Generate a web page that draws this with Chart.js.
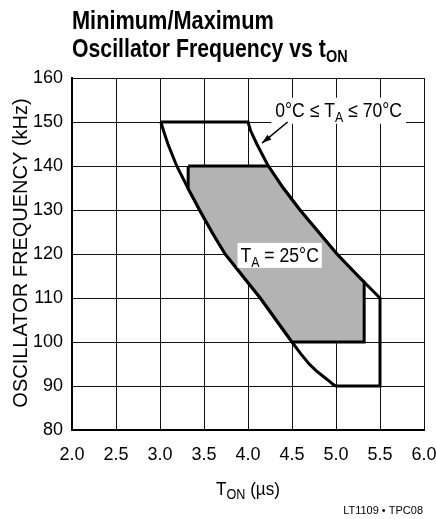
<!DOCTYPE html>
<html>
<head>
<meta charset="utf-8">
<script src="https://cdn.jsdelivr.net/npm/chart.js@4.4.1/dist/chart.umd.min.js"></script>
<style>
  html, body { margin: 0; padding: 0; background: #fff; }
  #wrap { position: relative; width: 436px; height: 519px; }
</style>
</head>
<body>
<div id="wrap"><canvas id="chart" width="436" height="519"></canvas></div>
<script>
// x ticks (t_ON, us) and y ticks (kHz)
const xTicks = [2.0, 2.5, 3.0, 3.5, 4.0, 4.5, 5.0, 5.5, 6.0];
const yTicks = [80, 90, 100, 110, 120, 130, 140, 150, 160];

// 0C <= TA <= 70C envelope, walked clockwise
const outerT = [3.01, 4.0, 4.03, 4.1, 4.23, 4.4, 4.59, 4.8, 5.01, 5.25, 5.5, 5.5, 5.0, 4.97, 4.93, 4.86, 4.78, 4.70, 4.6, 4.5, 4.32, 4.14, 3.94, 3.74, 3.59, 3.45, 3.32, 3.19, 3.09, 3.04, 3.01];
const outerF = [150, 150, 148, 145, 140, 135, 130, 125, 120, 115, 110, 90, 90, 90.3, 91, 92.1, 93.4, 94.9, 97.3, 100, 105, 110, 115, 120, 125, 130, 134.9, 140, 145, 148, 150];

// TA = 25C region
const innerT = [3.32, 4.23, 4.4, 4.59, 4.8, 5.01, 5.25, 5.32, 5.32, 4.5, 4.32, 4.14, 3.94, 3.74, 3.59, 3.45, 3.32, 3.32];
const innerF = [140, 140, 135, 130, 125, 120, 115, 113.6, 100, 100, 105, 110, 115, 120, 125, 130, 134.9, 140];

const FONT = '"Liberation Sans", Arial, sans-serif';

function pts(xs, ys) {
    return xs.map((x, i) => ({ x: x, y: ys[i] }));
}

// draws text made of pieces (some subscripted), squeezed horizontally by sx
function drawRich(ctx, parts, x, y, align, sx) {
    sx = sx || 1;
    let total = 0;
    parts.forEach(p => {
        ctx.font = p.font;
        p.w = ctx.measureText(p.text).width;
        total += p.w;
    });
    let cx = 0;
    if (align === 'center') cx = -total / 2;
    if (align === 'right') cx = -total;
    ctx.save();
    ctx.translate(x, y);
    ctx.scale(sx, 1);
    ctx.textAlign = 'left';
    ctx.textBaseline = 'alphabetic';
    parts.forEach(p => {
        ctx.font = p.font;
        ctx.fillText(p.text, cx, p.dy || 0);
        cx += p.w;
    });
    ctx.restore();
    return total * sx;
}

function richWidth(ctx, parts, sx) {
    let w = 0;
    parts.forEach(p => { ctx.font = p.font; w += ctx.measureText(p.text).width; });
    return w * (sx || 1);
}

const textPlugin = {
    id: 'texts',
    afterDraw(chart) {
        const ctx = chart.ctx;
        const xs = chart.scales.x;
        const ys = chart.scales.y;
        ctx.save();
        ctx.fillStyle = '#000';

        // title
        const tf = 'bold 25px ' + FONT;
        const tfs = 'bold 17px ' + FONT;
        drawRich(ctx, [{ text: 'Minimum/Maximum', font: tf }], 72, 29, 'left', 0.87);
        drawRich(ctx, [
            { text: 'Oscillator Frequency vs t', font: tf },
            { text: 'ON', font: tfs, dy: 5 }
        ], 72, 57, 'left', 0.85);

        // y axis title
        ctx.save();
        ctx.translate(27, 253);
        ctx.rotate(-Math.PI / 2);
        drawRich(ctx, [{ text: 'OSCILLATOR FREQUENCY (kHz)', font: '20px ' + FONT }], 0, 0, 'center', 1);
        ctx.restore();

        // x axis title
        drawRich(ctx, [
            { text: 'T', font: '19px ' + FONT },
            { text: 'ON', font: '14px ' + FONT, dy: 4 },
            { text: ' (\u00b5s)', font: '19px ' + FONT }
        ], 248, 495, 'center', 0.9);

        // footnote
        drawRich(ctx, [{ text: 'LT1109 \u2022 TPC08', font: '11px ' + FONT }], 423, 514, 'right', 1);

        const big = '20px ' + FONT;
        const sub = '14px ' + FONT;
        const sq = 0.88;

        // annotation: TA = 25C
        const aX = xs.getPixelForValue(4.36);
        const aY = ys.getPixelForValue(119.8);
        const lab1 = [
            { text: 'T', font: big },
            { text: 'A', font: sub, dy: 5 },
            { text: ' = 25\u00b0C', font: big }
        ];
        let w = richWidth(ctx, lab1, sq);
        ctx.fillStyle = '#fff';
        ctx.fillRect(aX - w / 2 - 3, aY - 12, w + 6, 25);
        ctx.fillStyle = '#000';
        drawRich(ctx, lab1, aX, aY + 7, 'center', sq);

        // annotation: 0C <= TA <= 70C with arrow
        const bX = xs.getPixelForValue(5.03);
        const bY = ys.getPixelForValue(152.8);
        const lab2 = [
            { text: '0\u00b0C \u2264 T', font: big },
            { text: 'A', font: sub, dy: 5 },
            { text: ' \u2264 70\u00b0C', font: big }
        ];
        w = richWidth(ctx, lab2, sq);
        ctx.fillStyle = '#fff';
        ctx.fillRect(bX - w / 2 - 4, bY - 12, w + 8, 26);
        ctx.fillStyle = '#000';
        drawRich(ctx, lab2, bX, bY + 7, 'center', sq);

        // arrow pointing at the right edge of the envelope
        const x0 = xs.getPixelForValue(4.45), y0 = ys.getPixelForValue(150);
        const x1 = xs.getPixelForValue(4.16), y1 = ys.getPixelForValue(145.2);
        ctx.strokeStyle = '#000';
        ctx.lineWidth = 1.5;
        ctx.beginPath();
        ctx.moveTo(x0, y0);
        ctx.lineTo(x1, y1);
        ctx.stroke();
        const ang = Math.atan2(y1 - y0, x1 - x0);
        ctx.beginPath();
        ctx.moveTo(x1, y1);
        ctx.lineTo(x1 - 10 * Math.cos(ang - 0.32), y1 - 10 * Math.sin(ang - 0.32));
        ctx.lineTo(x1 - 10 * Math.cos(ang + 0.32), y1 - 10 * Math.sin(ang + 0.32));
        ctx.closePath();
        ctx.fill();

        ctx.restore();
    }
};

const ctx = document.getElementById('chart').getContext('2d');

const chart = new Chart(ctx, {
    type: 'scatter',
    data: {
        datasets: [
            {
                label: 'TA = 25C',
                data: pts(innerT, innerF),
                showLine: true,
                fill: 'shape',
                backgroundColor: '#b3b3b3',
                borderColor: '#000',
                borderWidth: 3,
                pointRadius: 0,
                tension: 0,
                borderJoinStyle: 'miter'
            },
            {
                label: '0C <= TA <= 70C',
                data: pts(outerT, outerF),
                showLine: true,
                fill: false,
                borderColor: '#000',
                borderWidth: 3,
                pointRadius: 0,
                tension: 0,
                borderJoinStyle: 'miter'
            }
        ]
    },
    options: {
        responsive: false,
        animation: false,
        events: [],
        layout: { padding: { top: 78, right: 0, left: 0, bottom: 0 } },
        plugins: {
            legend: { display: false },
            tooltip: { enabled: false },
            title: { display: false }
        },
        scales: {
            x: {
                type: 'linear',
                min: xTicks[0],
                max: xTicks[xTicks.length - 1],
                z: 1,
                afterBuildTicks: s => { s.ticks = xTicks.map(v => ({ value: v })); },
                afterFit: s => {
                    s.height = 89;
                    s.paddingLeft = 0;
                    s.paddingRight = 12;
                },
                ticks: {
                    padding: 14,
                    color: '#000',
                    font: { family: FONT, size: 18 },
                    callback: v => v.toFixed(1)
                },
                grid: { color: '#111', lineWidth: 1, drawTicks: false },
                border: { color: '#000', width: 2 }
            },
            y: {
                type: 'linear',
                min: yTicks[0],
                max: yTicks[yTicks.length - 1],
                z: 1,
                afterBuildTicks: s => { s.ticks = yTicks.map(v => ({ value: v })); },
                afterFit: s => {
                    s.width = 72;
                    s.paddingTop = 0;
                    s.paddingBottom = 0;
                },
                ticks: {
                    padding: 9,
                    color: '#000',
                    font: { family: FONT, size: 18 },
                    callback: v => String(v)
                },
                grid: { color: '#111', lineWidth: 1, drawTicks: false },
                border: { color: '#000', width: 2 }
            }
        }
    },
    plugins: [textPlugin]
});
</script>
</body>
</html>
